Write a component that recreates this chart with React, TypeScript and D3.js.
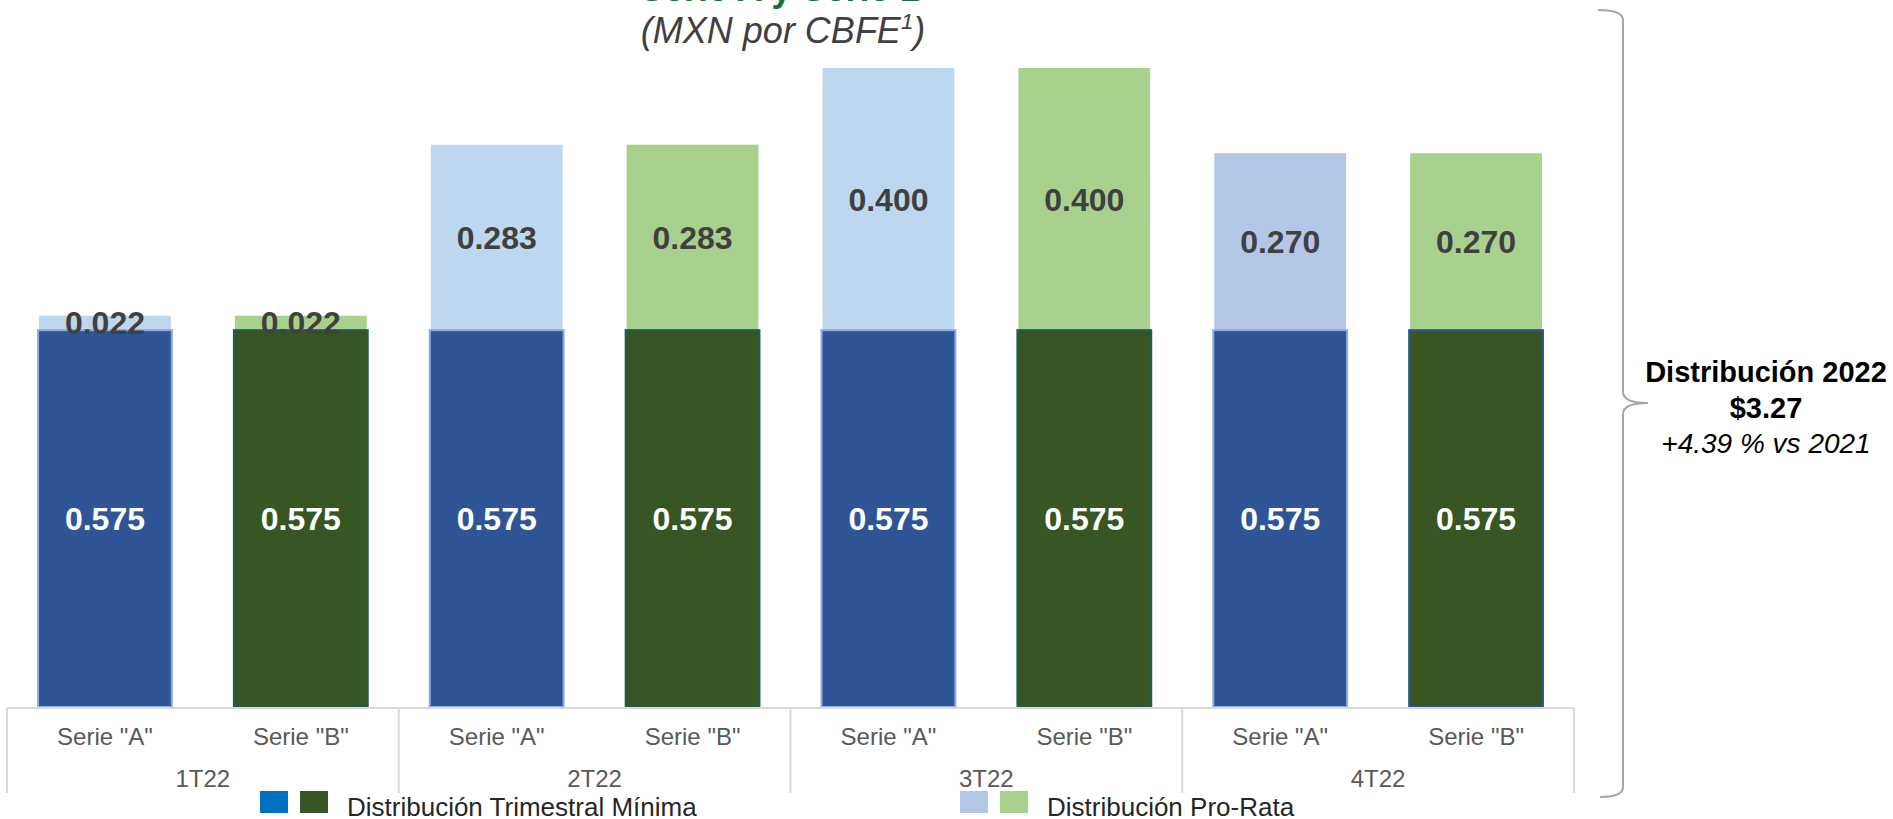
import React from "react";
import * as d3 from "d3";

const quarters = ["1T22", "2T22", "3T22", "4T22"];
const seriesNames = ['Serie "A"', 'Serie "B"'];
const minima = [0.575, 0.575, 0.575, 0.575, 0.575, 0.575, 0.575, 0.575];
const proRata = [0.022, 0.022, 0.283, 0.283, 0.4, 0.4, 0.27, 0.27];
const minimaFill = ["#2F5597", "#375623", "#2F5597", "#375623", "#2F5597", "#375623", "#2F5597", "#375623"];
const minimaStroke = ["#8FAADC", "#215F4B", "#8FAADC", "#215F4B", "#8FAADC", "#215F4B", "#8FAADC", "#2F5597"];
const proRataFill = ["#BDD7EE", "#A9D18E", "#BDD7EE", "#A9D18E", "#BDD7EE", "#A9D18E", "#B4C7E7", "#A9D18E"];
const legendItems = [
  { colors: ["#0070C0", "#375623"], label: "Distribución Trimestral Mínima" },
  { colors: ["#B4C7E7", "#A9D18E"], label: "Distribución Pro-Rata" },
];
const titleTop = "Serie A y Serie B";
const subtitle = "(MXN por CBFE";
const sideLines = ["Distribución 2022", "$3.27", "+4.39 % vs 2021"];

const W = 1893;
const H = 819;
const FONT = "'Liberation Sans', Arial, sans-serif";

export default function App() {
  const cats = quarters.flatMap((q) => seriesNames.map((s) => `${q}|${s}`));
  const x = d3
    .scaleBand<string>()
    .domain(cats)
    .range([7, 1574])
    .paddingInner(0.327)
    .paddingOuter(0.1635);
  const y = d3.scaleLinear().domain([0, 0.975]).range([707, 68]);
  const fmt = d3.format(".3f");
  const step = x.step();
  const groupBounds = d3.range(quarters.length + 1).map((g) => 7 + g * step * 2);
  const axisY = 708;

  const legendX = [260, 960];

  return (
    <svg
      width={W}
      height={H}
      style={{ position: "absolute", left: 0, top: 0, background: "#fff" }}
      fontFamily={FONT}
    >
      <rect width={W} height={H} fill="#fff" />
      {/* titles */}
      <text x={640} y={1} fontSize={36} fontWeight="bold" fill="#1F6E43">
        {titleTop}
      </text>
      <text x={783} y={43} fontSize={36} fontStyle="italic" fill="#404040" textAnchor="middle">
        {subtitle}
        <tspan fontSize={22} dy={-14}>1</tspan>
        <tspan dy={14}>)</tspan>
      </text>

      {/* bars */}
      {cats.map((c, i) => {
        const bx = x(c)!;
        const bw = x.bandwidth();
        const y0 = y(0);
        const y1 = y(minima[i]);
        const y2 = y(minima[i] + proRata[i]);
        const cx = bx + bw / 2;
        return (
          <g key={c}>
            <rect x={bx} y={y2} width={bw} height={y1 - y2} fill={proRataFill[i]} />
            <rect
              x={bx - 1}
              y={y1}
              width={bw + 2}
              height={y0 - y1}
              fill={minimaFill[i]}
              stroke={minimaStroke[i]}
              strokeWidth={2}
            />
            <text
              x={cx}
              y={(y1 + y2) / 2}
              dy="0.36em"
              textAnchor="middle"
              fontSize={32}
              fontWeight="bold"
              fill="#404040"
            >
              {fmt(proRata[i])}
            </text>
            <text
              x={cx}
              y={(y0 + y1) / 2}
              dy="0.36em"
              textAnchor="middle"
              fontSize={32}
              fontWeight="bold"
              fill="#FFFFFF"
            >
              {fmt(minima[i])}
            </text>
            <text x={cx} y={745} textAnchor="middle" fontSize={24} fill="#595959">
              {c.split("|")[1]}
            </text>
          </g>
        );
      })}

      {/* axis */}
      <line x1={groupBounds[0]} x2={groupBounds[groupBounds.length - 1]} y1={axisY} y2={axisY} stroke="#D9D9D9" strokeWidth={2} />
      {groupBounds.map((gx, i) => (
        <line key={i} x1={gx} x2={gx} y1={axisY} y2={793} stroke="#D9D9D9" strokeWidth={2} />
      ))}
      {quarters.map((q, g) => (
        <text
          key={q}
          x={(groupBounds[g] + groupBounds[g + 1]) / 2}
          y={787}
          textAnchor="middle"
          fontSize={24}
          fill="#595959"
        >
          {q}
        </text>
      ))}

      {/* legend */}
      {legendItems.map((it, i) => (
        <g key={it.label} transform={`translate(${legendX[i]},791)`}>
          <rect x={0} y={0} width={28} height={22} fill={it.colors[0]} />
          <rect x={40} y={0} width={28} height={22} fill={it.colors[1]} />
          <text x={87} y={25} fontSize={26} fill="#262626">
            {it.label}
          </text>
        </g>
      ))}

      {/* bracket */}
      <path
        d="M1598,10 Q1623,10 1623,20 L1623,392 Q1623,403 1648,403 Q1623,403 1623,414 L1623,787 Q1623,797 1600,797"
        fill="none"
        stroke="#A6A6A6"
        strokeWidth={2}
      />
      <text x={1766} y={382} textAnchor="middle" fontSize={29} fontWeight="bold" fill="#000">
        {sideLines[0]}
      </text>
      <text x={1766} y={418} textAnchor="middle" fontSize={29} fontWeight="bold" fill="#000">
        {sideLines[1]}
      </text>
      <text x={1766} y={453} textAnchor="middle" fontSize={28} fontStyle="italic" fill="#000">
        {sideLines[2]}
      </text>
    </svg>
  );
}
